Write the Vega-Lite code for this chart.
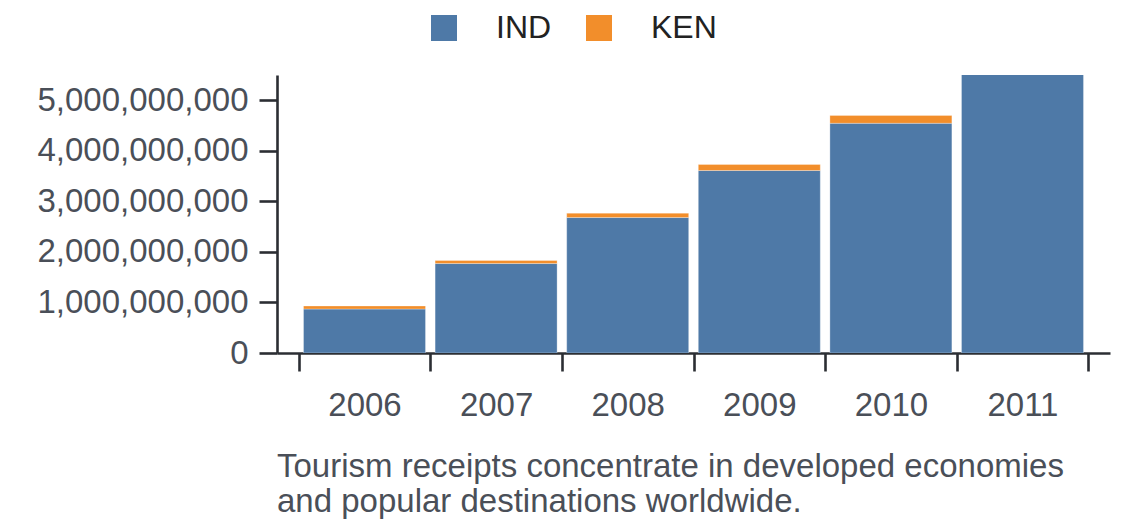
{
  "$schema": "https://vega.github.io/schema/vega-lite/v6.json",
  "width": 833,
  "height": 278,
  "autosize": "none",
  "padding": {"left": 277, "top": 75, "right": 30, "bottom": 175},
  "background": "#ffffff",
  "data": {
    "values": [
      {"year": "2006", "country": "IND", "receipts": 870000000},
      {"year": "2006", "country": "KEN", "receipts": 60000000},
      {"year": "2007", "country": "IND", "receipts": 1770000000},
      {"year": "2007", "country": "KEN", "receipts": 60000000},
      {"year": "2008", "country": "IND", "receipts": 2680000000},
      {"year": "2008", "country": "KEN", "receipts": 87000000},
      {"year": "2009", "country": "IND", "receipts": 3610000000},
      {"year": "2009", "country": "KEN", "receipts": 120000000},
      {"year": "2010", "country": "IND", "receipts": 4545000000},
      {"year": "2010", "country": "KEN", "receipts": 155000000},
      {"year": "2011", "country": "IND", "receipts": 6000000000},
      {"year": "2011", "country": "KEN", "receipts": 180000000}
    ]
  },
  "title": {
    "text": ["Tourism receipts concentrate in developed economies", "and popular destinations worldwide."],
    "orient": "bottom",
    "anchor": "start",
    "frame": "group",
    "fontSize": 33,
    "fontWeight": "normal",
    "font": "Liberation Sans",
    "color": "#4a4f58",
    "lineHeight": 35,
    "offset": 29
  },
  "mark": {"type": "bar", "clip": true, "width": {"band": 0.927}, "stroke": "#ffffff", "strokeWidth": 0.6, "strokeOpacity": 0.5},
  "encoding": {
    "x": {
      "field": "year",
      "type": "ordinal",
      "title": null,
      "scale": {"paddingInner": 0, "paddingOuter": 0.165},
      "axis": {"tickBand": "extent", "labelAngle": 0, "labelPadding": 18}
    },
    "y": {
      "field": "receipts",
      "type": "quantitative",
      "stack": "zero",
      "title": null,
      "scale": {"domain": [0, 5500000000], "nice": false},
      "axis": {
        "values": [0, 1000000000, 2000000000, 3000000000, 4000000000, 5000000000],
        "format": ",d",
        "labelPadding": 11,
        "labelLimit": 400
      }
    },
    "color": {
      "field": "country",
      "type": "nominal",
      "scale": {"domain": ["IND", "KEN"], "range": ["#4e79a7", "#f28e2b"]},
      "legend": {
        "title": null,
        "orient": "none",
        "direction": "horizontal",
        "legendX": 151,
        "legendY": -63,
        "padding": 0,
        "symbolType": "square",
        "symbolSize": 676,
        "symbolStrokeWidth": 0,
        "symbolOpacity": 1,
        "labelFontSize": 32,
        "labelFont": "Liberation Sans",
        "labelColor": "#222222",
        "labelOffset": 36,
        "columnPadding": 31
      }
    },
    "order": {"field": "country", "sort": "ascending"}
  },
  "config": {
    "view": {"stroke": null},
    "axis": {
      "grid": false,
      "domainColor": "#2b2e33",
      "domainWidth": 2.6,
      "tickColor": "#2b2e33",
      "tickWidth": 2.6,
      "tickSize": 18,
      "labelFont": "Liberation Sans",
      "labelFontSize": 33,
      "labelColor": "#4a4f58"
    }
  }
}
